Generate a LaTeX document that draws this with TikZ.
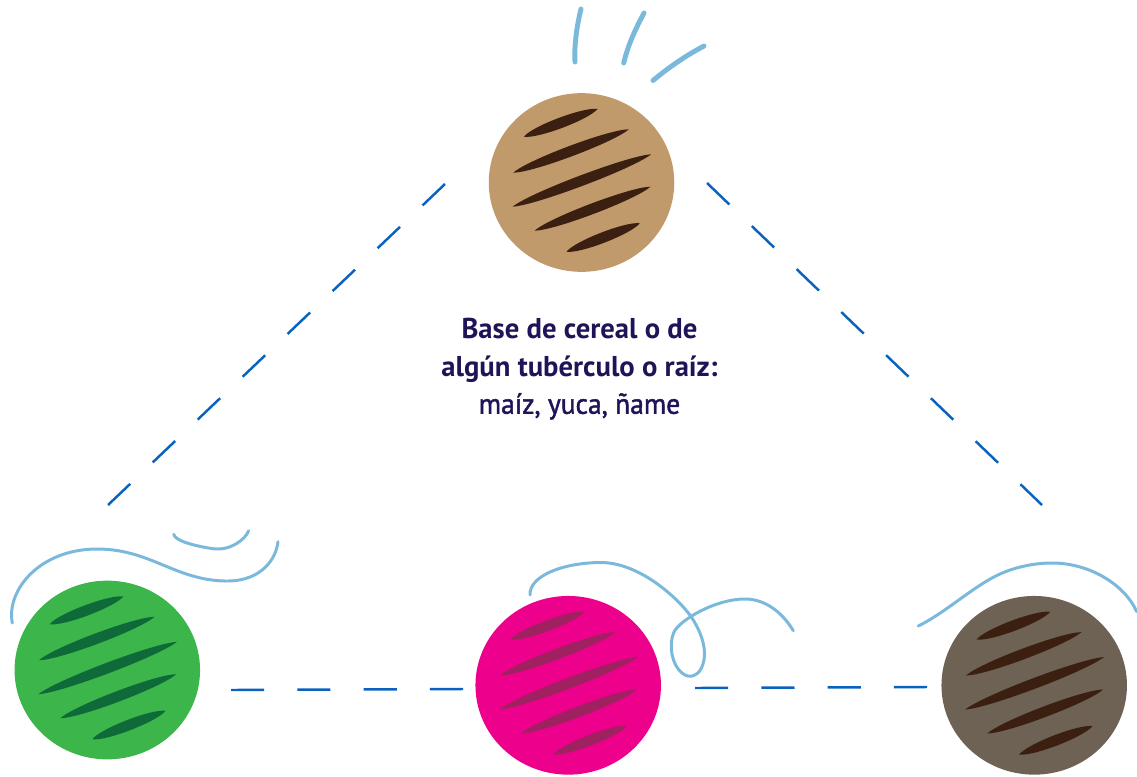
\documentclass[tikz,border=0pt]{standalone}
\usepackage{fontspec}
\setmainfont{PT Sans}
\newfontfamily\medio[FakeBold=1.5,FakeStretch=0.96]{PT Sans}
\usetikzlibrary{shapes.geometric}
\definecolor{azul}{HTML}{0A62BE}
\definecolor{celeste}{HTML}{7AB8DC}
\definecolor{tinta}{HTML}{1F1457}
\tikzset{
    grano/.style = {ellipse, inner sep=0pt, minimum width=1.854cm, minimum height=1.786cm},
    enlace/.style = {draw=azul, line width=0.7pt, dash pattern=on 8.83pt off 8.83pt},
    enlaceh/.style = {draw=azul, line width=0.7pt, dash pattern=on 9.43pt off 9.43pt},
    trazo/.style = {draw=celeste, line width=0.85pt, line cap=round},
    rayo/.style = {draw=celeste, line width=1.4pt, line cap=round}
}
\begin{document}
\begin{tikzpicture}[x=0.01cm, y=-0.01cm]
        \useasboundingbox (0,0) rectangle (1137,776);
        % the four grains with their stripes
        \foreach \nm/\cx/\cy/\cf/\cs in {arriba/581.5/182.5/C19A6B/3B2012, verde/107.3/670/3CB54A/0F6A3A, rosa/568.2/685.3/EC008C/A0215F, gris/1034.2/685.3/6E6255/3B2012} {
            \definecolor{relleno}{HTML}{\cf}
            \definecolor{raya}{HTML}{\cs}
            \node (\nm) [grano, fill=relleno] at (\cx,\cy) {};
            \foreach \ax/\ay/\bx/\by in {-57.7/-45.8/16/-73.5, -68.3/-9.8/47.3/-53.2, -69/24.2/69.7/-28.2, -47/48.2/69/4.2, -15/69.2/58.3/40.8} {
                \pgfmathsetmacro{\dx}{\bx-\ax};
                \pgfmathsetmacro{\dy}{\by-\ay};
                \pgfmathsetmacro{\nx}{-\dy/veclen(\dx,\dy)*7};
                \pgfmathsetmacro{\ny}{\dx/veclen(\dx,\dy)*7};
                \fill [raya] (\cx+\ax,\cy+\ay)
                    .. controls (\cx+\ax+0.15*\dx+\nx,\cy+\ay+0.15*\dy+\ny) and (\cx+\ax+0.85*\dx+\nx,\cy+\ay+0.85*\dy+\ny) .. (\cx+\bx,\cy+\by)
                    .. controls (\cx+\ax+0.85*\dx-\nx,\cy+\ay+0.85*\dy-\ny) and (\cx+\ax+0.15*\dx-\nx,\cy+\ay+0.15*\dy-\ny) .. (\cx+\ax,\cy+\ay);
            }
        }
        % dashed sides, free ends
        \coordinate (izqA) at (445,184);
        \coordinate (izqB) at (108,505);
        \coordinate (derA) at (707,183);
        \coordinate (derB) at (1042,505);
        \coordinate (bajoA) at (231,690);
        \coordinate (bajoB) at (463,689);
        \coordinate (bajoC) at (695,688);
        \coordinate (bajoD) at (927,687);
        \draw [enlace] (izqA) -- (izqB);
        \draw [enlace] (derA) -- (derB);
        \draw [enlaceh] (bajoA) -- (bajoB);
        \draw [enlaceh] (bajoC) -- (bajoD);
        % strokes round the grains
        \draw [rayo] (581,9) .. controls (577,25) and (574,45) .. (575,62);
        \draw [rayo] (644,13) .. controls (635,30) and (628,45) .. (623.7,63);
        \draw [rayo] (704,46) .. controls (685,56) and (668,68) .. (653,80.5);
        \draw [trazo] (12.3,623) .. controls (6,590) and (40,549) .. (97,549) .. controls (150,549) and (175,580) .. (225,581) .. controls (255,582) and (275,565) .. (278,541.7);
        \draw [trazo] (173.7,534.3) .. controls (175,541) and (195,546) .. (213,548.7) .. controls (230,551) and (245,540) .. (248.7,530.7);
        \draw [trazo] (530,595) .. controls (529,577) and (560,563) .. (600,562.5) .. controls (640,562) and (680,600) .. (692,618) .. controls (703,635) and (707,652) .. (703,664) .. controls (700,675) and (690,680) .. (682,673) .. controls (672,665) and (668,645) .. (674,632) .. controls (680,620) and (715,599) .. (745,599) .. controls (765,599) and (782,612) .. (793.3,630.7);
        \draw [trazo] (918.3,626) .. controls (945,613) and (975,585) .. (1000,574) .. controls (1020,565) and (1040,563) .. (1052,563) .. controls (1090,563) and (1125,585) .. (1136.7,611.7);
        \node (texto) [align=center, text=tinta, font=\fontsize{8.15}{10.67}\selectfont] at (579.5,369) {\textbf{Base de cereal o de}\\\textbf{algún tubérculo o raíz:}\\{\medio maíz, yuca, ñame}};
    \end{tikzpicture}
\end{document}
